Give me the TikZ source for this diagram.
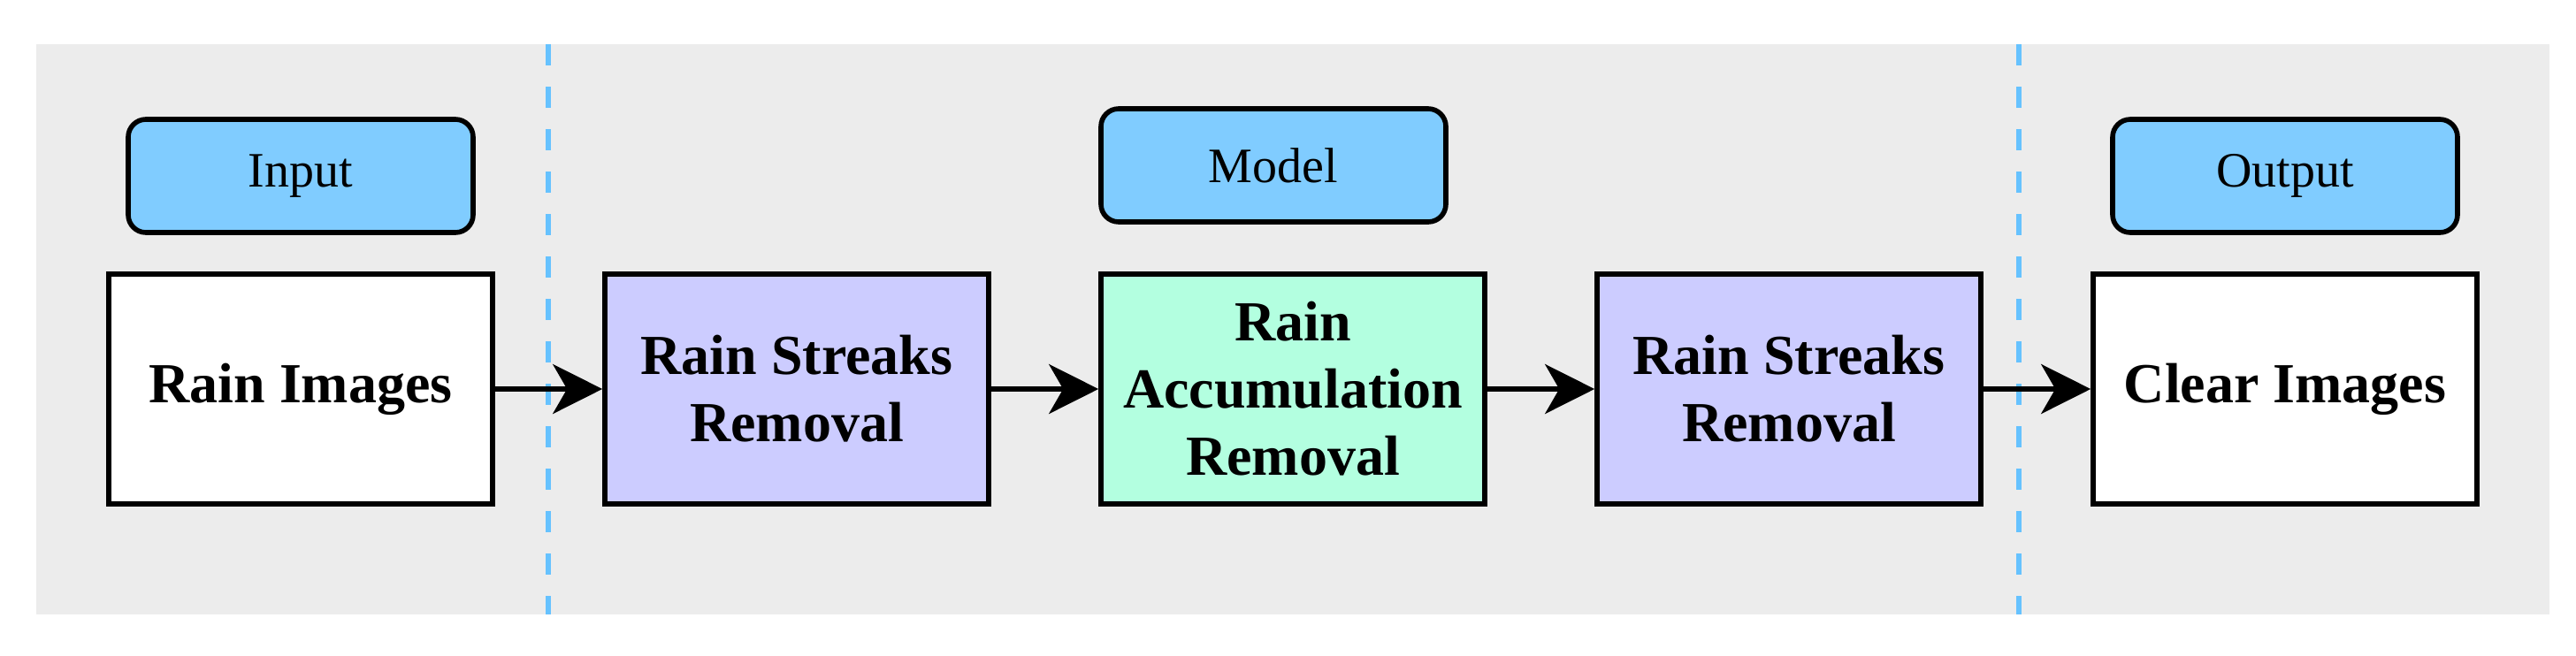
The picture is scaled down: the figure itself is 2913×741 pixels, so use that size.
\documentclass[tikz,border=0pt]{standalone}
\usepackage{fontspec}
\setmainfont{Liberation Serif}
\usetikzlibrary{arrows.meta}
\begin{document}
\begin{tikzpicture}[x=0.25pt,y=-0.25pt,
 box/.style={draw,line width=1.4pt,minimum width=108.5pt,minimum height=65pt,align=center,font=\fontsize{16}{19}\selectfont\bfseries,inner sep=0pt},
 lab/.style={draw,line width=1.4pt,rounded corners=5pt,fill=labblue,minimum width=97.5pt,minimum height=32pt,font=\fontsize{14}{16}\selectfont},
 arr/.style={line width=1.4pt,-{Stealth[length=14pt,width=14pt,inset=4pt]}},
 sep/.style={draw=sepblue,line width=1.6pt,dash pattern=on 6pt off 6pt}]
\definecolor{labblue}{HTML}{80CCFF}
\definecolor{sepblue}{HTML}{66C2FF}
\definecolor{purp}{HTML}{CCCCFF}
\definecolor{mint}{HTML}{B3FFE0}
\useasboundingbox (0,0) rectangle (2913,741);
\fill[gray!15] (41,50) rectangle (2883,695);
\coordinate (s1t) at (620,50); \coordinate (s1b) at (620,695);
\coordinate (s2t) at (2283,50); \coordinate (s2b) at (2283,695);
\draw[sep] (s1t) -- (s1b);
\draw[sep] (s2t) -- (s2b);
\node[lab] (in) at (340,199) {Input};
\node[lab] (mo) at (1440,187) {Model};
\node[lab] (ou) at (2584,199) {Output};
\node[box,fill=white] (a) at (340,440) {Rain Images};
\node[box,fill=purp] (b) at (901,440) {Rain Streaks\\Removal};
\node[box,fill=mint] (c) at (1462,440) {Rain\\Accumulation\\Removal};
\node[box,fill=purp] (d) at (2023,440) {Rain Streaks\\Removal};
\node[box,fill=white] (e) at (2584,440) {Clear Images};
\draw[arr] (a) -- (b);
\draw[arr] (b) -- (c);
\draw[arr] (c) -- (d);
\draw[arr] (d) -- (e);
\end{tikzpicture}
\end{document}
